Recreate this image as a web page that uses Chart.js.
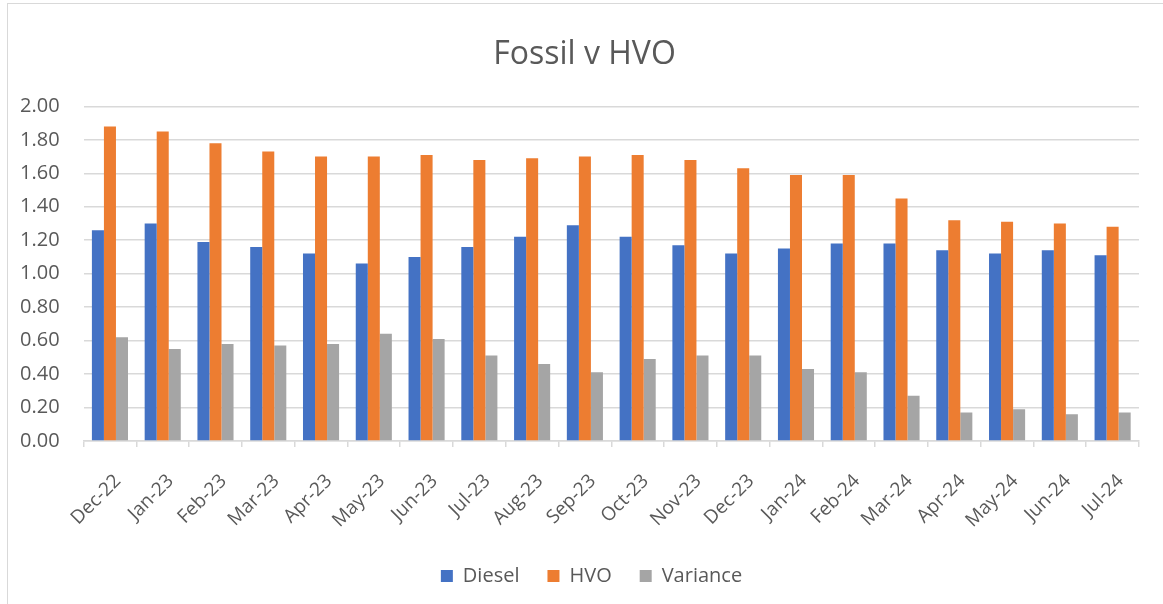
<!DOCTYPE html>
<html>
<head>
<meta charset="utf-8">
<script src="https://cdn.jsdelivr.net/npm/chart.js@4"></script>
<style>
    html, body { margin: 0; padding: 0; background: #fff; overflow: hidden; }
    #frame { position: absolute; left: 7px; top: 3px; width: 1200px; height: 700px;
             border-left: 1px solid #d9d9d9; border-top: 1px solid #d9d9d9; }
    #wrap { position: absolute; left: 0; top: 0; width: 1163px; height: 604px; }
</style>
</head>
<body>
<div id="frame"></div>
<div id="wrap"><canvas id="bar-chart"></canvas></div>
<script>
var months = ['Dec-22', 'Jan-23', 'Feb-23', 'Mar-23', 'Apr-23', 'May-23', 'Jun-23', 'Jul-23', 'Aug-23', 'Sep-23',
              'Oct-23', 'Nov-23', 'Dec-23', 'Jan-24', 'Feb-24', 'Mar-24', 'Apr-24', 'May-24', 'Jun-24', 'Jul-24'];
var diesel   = [1.26, 1.30, 1.19, 1.16, 1.12, 1.06, 1.10, 1.16, 1.22, 1.29, 1.22, 1.17, 1.12, 1.15, 1.18, 1.18, 1.14, 1.12, 1.14, 1.11];
var hvo      = [1.88, 1.85, 1.78, 1.73, 1.70, 1.70, 1.71, 1.68, 1.69, 1.70, 1.71, 1.68, 1.63, 1.59, 1.59, 1.45, 1.32, 1.31, 1.30, 1.28];
var variance = [0.62, 0.55, 0.58, 0.57, 0.58, 0.64, 0.61, 0.51, 0.46, 0.41, 0.49, 0.51, 0.51, 0.43, 0.41, 0.27, 0.17, 0.19, 0.16, 0.17];
var yTicks   = [0.00, 0.20, 0.40, 0.60, 0.80, 1.00, 1.20, 1.40, 1.60, 1.80, 2.00];

var font = '"Open Sans", sans-serif';
var grey = '#d9d9d9';
var text = '#595959';

// title and legend sit centred on the whole frame, not on the (left-shifted) layout box
var recentre = {
    id: 'recentre',
    afterLayout: function(chart) {
        chart.titleBlock.left += 17;
        chart.titleBlock.right += 17;
        chart.legend.left += 24;
        chart.legend.right += 24;
    }
};

new Chart(document.getElementById('bar-chart'), {
    type: 'bar',
    data: {
        labels: months,
        datasets: [
            { label: 'Diesel',   data: diesel,   backgroundColor: '#4472c4' },
            { label: 'HVO',      data: hvo,      backgroundColor: '#ed7d31' },
            { label: 'Variance', data: variance, backgroundColor: '#a5a5a5' }
        ]
    },
    plugins: [recentre],
    options: {
        responsive: true,
        maintainAspectRatio: false,
        animation: false,
        datasets: { bar: { barPercentage: 1, categoryPercentage: 0.684 } },
        // left is pulled in because chart.js reserves room for the rotated first label
        layout: { padding: { left: -4, right: 24, top: 18, bottom: 8 } },
        plugins: {
            title: {
                display: true,
                text: 'Fossil v HVO',
                color: text,
                font: { family: font, size: 32, weight: 'normal' },
                padding: { top: 18, bottom: 32 }
            },
            legend: {
                position: 'bottom',
                labels: {
                    color: text,
                    font: { family: font, size: 20 },
                    boxWidth: 12, boxHeight: 12,
                    padding: 28
                }
            },
            tooltip: { enabled: false }
        },
        scales: {
            x: {
                grid: { display: true, drawOnChartArea: false, drawTicks: true, tickLength: 6, color: grey, lineWidth: 1.5 },
                border: { display: true, color: grey, width: 1.5 },
                ticks: { color: text, font: { family: font, size: 19 }, maxRotation: 45, minRotation: 45, padding: 23, labelOffset: 8 },
                afterFit: function(axis) {
                    axis.height -= 17; // labels may run into the empty band above the legend
                }
            },
            y: {
                min: 0,
                max: 2,
                afterBuildTicks: function(axis) {
                    axis.ticks = yTicks.map(function(v) { return { value: v }; });
                },
                grid: { color: grey, lineWidth: 1.5, drawTicks: false },
                border: { display: false },
                ticks: {
                    color: text,
                    font: { family: font, size: 20 },
                    padding: 24,
                    callback: function(v) { return Number(v).toFixed(2); }
                }
            }
        }
    }
});
</script>
</body>
</html>
